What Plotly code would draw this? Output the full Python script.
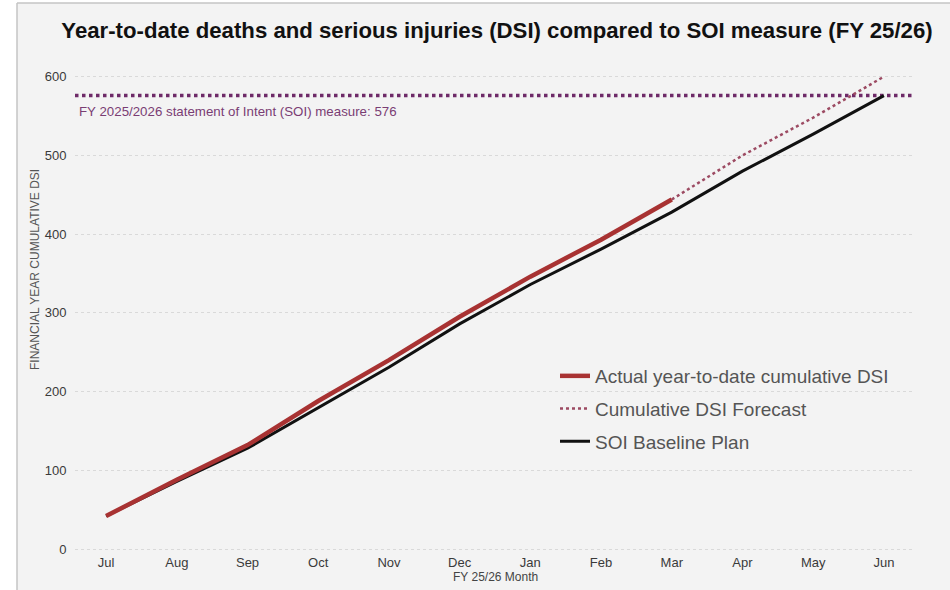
import plotly.graph_objects as go

# FY 25/26 months
months = ["Jul", "Aug", "Sep", "Oct", "Nov", "Dec", "Jan", "Feb", "Mar", "Apr", "May", "Jun"]

# Actual year-to-date cumulative DSI (Jul - Mar)
actual_months = months[:9]
actual_dsi = [42, 88, 132, 188, 240, 295, 346, 393, 444]

# Forecast from latest actual to year end (Mar - Jun)
forecast_months = months[8:]
forecast_dsi = [444, 500, 548, 600]

# SOI baseline plan
baseline_dsi = [42, 86, 128, 180, 231, 286, 336, 381, 428, 480, 527, 576]

# Statement of Intent measure
soi_measure = 576

y_ticks = [0, 100, 200, 300, 400, 500, 600]

BG = "#f3f3f3"
FONT = "Arial, Liberation Sans, sans-serif"

fig = go.Figure()

# drawn baseline first so the actual line sits on top
fig.add_trace(go.Scatter(
    x=months, y=baseline_dsi, mode="lines",
    name="SOI Baseline Plan",
    line=dict(color="#111111", width=3),
    legendgroup="c", legendrank=3,
))
fig.add_trace(go.Scatter(
    x=forecast_months, y=forecast_dsi, mode="lines",
    name="Cumulative DSI Forecast",
    line=dict(color="#9c4a62", width=2.5, dash="dot"),
    legendgroup="b", legendrank=2,
))
fig.add_trace(go.Scatter(
    x=actual_months, y=actual_dsi, mode="lines",
    name="Actual year-to-date cumulative DSI",
    line=dict(color="#a83232", width=4.5),
    legendgroup="a", legendrank=1,
))

# panel frame: light panel with grey left and top edges
px0 = (17 - 75) / 840
py1 = 1 + (57 - 3) / 496
fig.add_shape(
    type="rect", xref="paper", yref="paper",
    x0=px0, x1=1.2, y0=-0.2, y1=py1,
    fillcolor=BG, line=dict(width=0), layer="below",
)
fig.add_shape(
    type="line", xref="paper", yref="paper",
    x0=px0, x1=px0, y0=-0.2, y1=py1,
    line=dict(color="#c4c4c4", width=1.5),
)
fig.add_shape(
    type="line", xref="paper", yref="paper",
    x0=px0, x1=1.2, y0=py1, y1=py1,
    line=dict(color="#c4c4c4", width=1.5),
)

# SOI measure reference line
fig.add_shape(
    type="line", xref="paper", yref="y",
    x0=0, x1=1, y0=soi_measure, y1=soi_measure,
    line=dict(color="#6e2a68", width=3.5, dash="dot"),
    layer="between",
)
fig.add_annotation(
    xref="paper", yref="y", x=0.002, y=soi_measure,
    xanchor="left", yanchor="top", yshift=-6,
    text=f"FY 2025/2026 statement of Intent (SOI) measure: {soi_measure}",
    showarrow=False,
    font=dict(family=FONT, size=13.3, color="#7a3d73"),
)

# axis titles
fig.add_annotation(
    xref="paper", yref="paper", x=0.5, y=(553 - 577) / 496,
    xanchor="center", yanchor="middle",
    text="FY 25/26 Month", showarrow=False,
    font=dict(family=FONT, size=12, color="#444444"),
)
fig.add_annotation(
    xref="paper", yref="paper", x=(35 - 75) / 840, y=(553 - 270) / 496,
    xanchor="center", yanchor="middle", textangle=-90,
    text="FINANCIAL YEAR CUMULATIVE DSI", showarrow=False,
    font=dict(family=FONT, size=12, color="#555555"),
)

fig.update_layout(
    width=950, height=590,
    margin=dict(l=75, r=35, t=57, b=37),
    paper_bgcolor="#ffffff",
    plot_bgcolor=BG,
    title=dict(
        text="<b>Year-to-date deaths and serious injuries (DSI) compared to SOI measure (FY 25/26)</b>",
        x=497 / 950, xanchor="center", y=1 - 30 / 590, yanchor="middle",
        font=dict(family=FONT, size=22.2, color="#111111"),
    ),
    font=dict(family=FONT, color="#444444"),
    legend=dict(
        x=(555 - 75) / 840, y=(553 - 357) / 496, xanchor="left", yanchor="top",
        bgcolor="rgba(0,0,0,0)",
        font=dict(family=FONT, size=19, color="#555555"),
        tracegroupgap=5,
        traceorder="grouped",
        itemwidth=30,
    ),
    showlegend=True,
)

fig.update_xaxes(
    type="category", categoryorder="array", categoryarray=months,
    range=[-0.44, 11.44],
    showgrid=False, zeroline=False, showline=False,
    ticks="", tickfont=dict(family=FONT, size=13, color="#3a3a3a"),
)
fig.update_yaxes(
    range=[-5, 625], tickvals=y_ticks,
    showgrid=True, gridcolor="#d9d9d9", griddash="dot", gridwidth=1,
    zeroline=False, showline=False,
    ticks="outside", ticklen=5, tickcolor="rgba(0,0,0,0)",
    tickfont=dict(family=FONT, size=13, color="#3a3a3a"),
)

fig.write_html("out.html")
